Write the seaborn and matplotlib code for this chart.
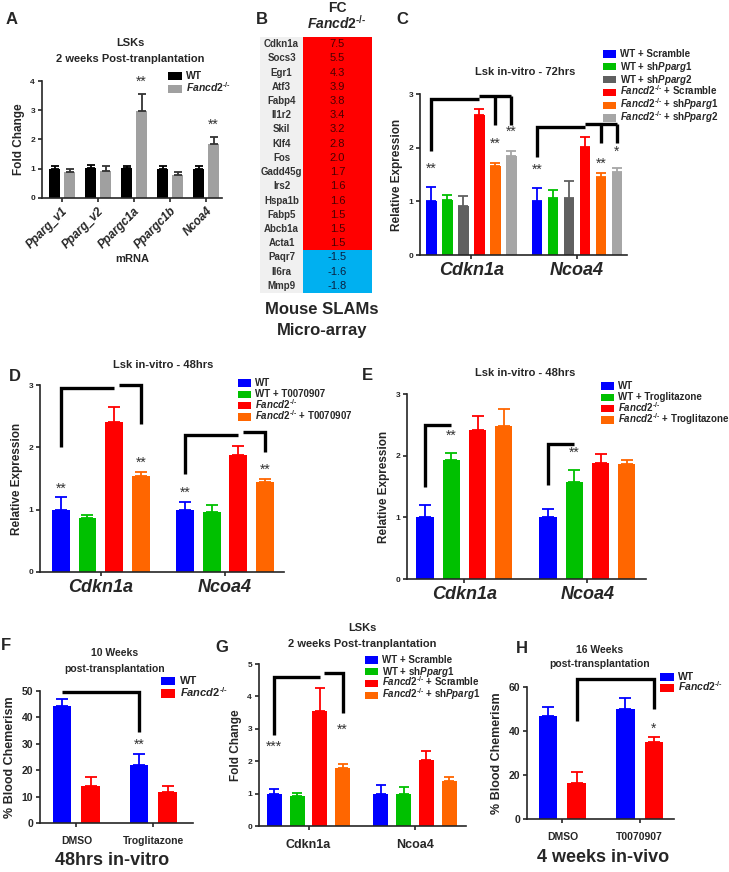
import numpy as np
import pandas as pd
import matplotlib
matplotlib.use('Agg')
import matplotlib.pyplot as plt
import seaborn as sns
from matplotlib.colors import ListedColormap
from matplotlib.container import BarContainer
from matplotlib.patches import Patch, Rectangle
from matplotlib.legend_handler import HandlerPatch

sns.set_style('ticks')
plt.rcParams['font.family'] = ['Liberation Sans', 'DejaVu Sans']
plt.rcParams['font.weight'] = 'bold'
plt.rcParams['mathtext.fontset'] = 'custom'
plt.rcParams['mathtext.rm'] = 'Liberation Sans:bold'
plt.rcParams['mathtext.it'] = 'Liberation Sans:italic:bold'
plt.rcParams['mathtext.bf'] = 'Liberation Sans:bold'
plt.rcParams['mathtext.fallback'] = None
plt.rcParams['axes.linewidth'] = 1.2

# hyphen (U+2010) instead of the wide math minus
KO = '$\\it{Fancd2}^{\u2010/\u2010}$'

# ---- panel A ----
a_genes = ['Pparg_v1', 'Pparg_v2', 'Ppargc1a', 'Ppargc1b', 'Ncoa4']
a_conds = ['WT', KO]
a_wt = [1.0, 1.02, 1.01, 1.0, 0.98]
a_wt_err = [0.08, 0.11, 0.10, 0.08, 0.11]
a_ko = [0.89, 0.94, 2.98, 0.80, 1.83]
a_ko_err = [0.11, 0.14, 0.57, 0.09, 0.24]

# ---- panel B ----
b_genes = ['Cdkn1a', 'Socs3', 'Egr1', 'Atf3', 'Fabp4', 'Il1r2', 'Skil', 'Klf4', 'Fos',
           'Gadd45g', 'Irs2', 'Hspa1b', 'Fabp5', 'Abcb1a', 'Acta1', 'Paqr7', 'Il6ra', 'Mmp9']
b_fc = [7.5, 5.5, 4.3, 3.9, 3.8, 3.4, 3.2, 2.8, 2.0, 1.7, 1.6, 1.6, 1.5, 1.5, 1.5, -1.5, -1.6, -1.8]

# ---- panel C ----
genes2 = ['Cdkn1a', 'Ncoa4']
c_conds = ['WT + Scramble', r'WT + sh$\it{Pparg1}$', r'WT + sh$\it{Pparg2}$',
           KO + ' + Scramble', KO + r' + sh$\it{Pparg1}$', KO + r' + sh$\it{Pparg2}$']
c_colors = ['#0000ff', '#00c000', '#606060', '#ff0000', '#ff6600', '#a6a6a6']
c_cdkn1a = [1.0, 1.02, 0.92, 2.6, 1.65, 1.84]
c_cdkn1a_err = [0.27, 0.10, 0.18, 0.12, 0.07, 0.10]
c_ncoa4 = [1.0, 1.07, 1.07, 2.01, 1.45, 1.54]
c_ncoa4_err = [0.24, 0.15, 0.30, 0.18, 0.08, 0.09]

# ---- panel D ----
d_conds = ['WT', 'WT + T0070907', KO, KO + ' + T0070907']
four_colors = ['#0000ff', '#00c000', '#ff0000', '#ff6600']
d_cdkn1a = [1.0, 0.86, 2.4, 1.54]
d_cdkn1a_err = [0.20, 0.06, 0.24, 0.07]
d_ncoa4 = [1.0, 0.97, 1.88, 1.44]
d_ncoa4_err = [0.13, 0.10, 0.14, 0.06]

# ---- panel E ----
e_conds = ['WT', 'WT + Troglitazone', KO, KO + ' + Troglitazone']
e_cdkn1a = [1.0, 1.93, 2.41, 2.48]
e_cdkn1a_err = [0.20, 0.12, 0.23, 0.28]
e_ncoa4 = [1.0, 1.58, 1.88, 1.86]
e_ncoa4_err = [0.13, 0.19, 0.14, 0.07]

# ---- panel F ----
f_treat = ['DMSO', 'Troglitazone']
two_conds = ['WT', KO]
two_colors = ['#0000ff', '#ff0000']
f_wt = [44.2, 22.0]
f_wt_err = [2.9, 4.0]
f_ko = [14.2, 11.9]
f_ko_err = [3.4, 2.3]

# ---- panel G ----
g_conds = ['WT + Scramble', r'WT + sh$\it{Pparg1}$', KO + ' + Scramble', KO + r' + sh$\it{Pparg1}$']
g_cdkn1a = [1.0, 0.93, 3.56, 1.79]
g_cdkn1a_err = [0.13, 0.09, 0.71, 0.13]
g_ncoa4 = [1.0, 1.0, 2.05, 1.39]
g_ncoa4_err = [0.26, 0.19, 0.27, 0.13]

# ---- panel H ----
h_treat = ['DMSO', 'T0070907']
h_wt = [46.8, 50.2]
h_wt_err = [4.1, 4.8]
h_ko = [16.5, 34.8]
h_ko_err = [4.9, 2.5]

W, H = 729, 872
fig = plt.figure(figsize=(W / 100, H / 100), dpi=100)


def add_ax(x0, y0, x1, y1):
    return fig.add_axes([x0 / W, 1 - y1 / H, (x1 - x0) / W, (y1 - y0) / H])


def ftext(x, y, s, **kw):
    kw.setdefault('ha', 'center')
    kw.setdefault('va', 'center')
    fig.text(x / W, 1 - y / H, s, **kw)


def bar_panel(ax, groups, conds, colors, by_group, err_by_group, width, gap, cap, ecolors=None):
    df = pd.DataFrame({
        'group': np.repeat(groups, len(conds)),
        'cond': conds * len(groups),
        'value': np.ravel(by_group),
    })
    sns.barplot(data=df, x='group', y='value', hue='cond', hue_order=conds, order=groups,
                palette=colors, width=width, gap=gap, errorbar=None, saturation=1,
                linewidth=0, ax=ax)
    bars = [c for c in ax.containers if isinstance(c, BarContainer)]
    # bar centres as [group][cond]
    centres = np.array([[b.get_x() + b.get_width() / 2 for b in cont] for cont in bars]).T
    errs = np.array(err_by_group).T
    for cont, e, col in zip(bars, errs, ecolors or colors):
        xs = [b.get_x() + b.get_width() / 2 for b in cont]
        hs = [b.get_height() for b in cont]
        ax.errorbar(xs, hs, yerr=[np.zeros(len(e)), e], fmt='none', ecolor=col,
                    elinewidth=1.3, capsize=cap, capthick=1.3, clip_on=False)
    return centres


def style(ax, xlim, ylim, yticks, ylabel, ylab_fs=8.5, tick_fs=6):
    ax.set_xlim(xlim)
    ax.set_ylim(ylim)
    ax.set_yticks(yticks)
    sns.despine(ax=ax)
    ax.tick_params(labelsize=tick_fs, width=1.2, length=3, pad=2)
    ax.set_xlabel('')
    ax.set_ylabel(ylabel, fontsize=ylab_fs, fontweight='bold', labelpad=4)


def small_patch(legend, orig_handle, xdescent, ydescent, width, height, fontsize):
    # fixed-size swatch centred in a tall handle box -> even row pitch
    cy = -ydescent + height / 2
    h = 0.75 * fontsize
    return Rectangle((-xdescent, cy - h / 2), width, h)


HH = 2.4
ROW_H = 0.65 * HH + 0.245          # handle box height (in font sizes)
DESC = 0.35 * (HH - 0.7)
CEN = ROW_H / 2 - DESC             # swatch centre above baseline
ASC = ROW_H - DESC                 # box top above baseline


def place_legend(ax, x, y, fs, pitch, hl=1.3):
    f_px = fs * 100 / 72
    sns.move_legend(ax, 'upper left',
                    bbox_to_anchor=(x / W, 1 - (y - (ASC - CEN) * f_px) / H),
                    bbox_transform=fig.transFigure, frameon=False, fontsize=fs, title='',
                    borderpad=0, borderaxespad=0, labelspacing=pitch / f_px - ROW_H,
                    handlelength=hl, handleheight=HH, handletextpad=0.45,
                    handler_map={Patch: HandlerPatch(patch_func=small_patch)})


def line(ax, xs, ys, lw=2.4):
    ax.plot(xs, ys, color='black', lw=lw, clip_on=False, solid_capstyle='butt',
            solid_joinstyle='miter')


def stars(ax, x, y, s='**', fs=10):
    ax.text(x, y, s, ha='center', va='center', fontsize=fs, fontweight='normal', color='#333333')


# ================= A =================
axA = add_ax(42, 81, 222, 198)
xa = bar_panel(axA, a_genes, a_conds, ['#000000', '#a0a0a0'],
               np.array([a_wt, a_ko]).T, np.array([a_wt_err, a_ko_err]).T, 0.833, 0.33, 2.8,
               ecolors=['#000000', '#333333'])
style(axA, (-0.556, 4.444), (0, 4), [0, 1, 2, 3, 4], 'Fold Change')
axA.set_xticks(range(len(a_genes)))
axA.set_xticklabels(a_genes, rotation=45, ha='right', rotation_mode='anchor',
                    fontsize=8.5, fontstyle='italic')
axA.set_xlabel('mRNA', fontsize=8, fontweight='bold', labelpad=2)
stars(axA, xa[2][1], 3.97)
stars(axA, xa[4][1], 2.49)
place_legend(axA, 168, 76, 7.5, 13)
ftext(130, 43, 'LSKs', fontsize=8)
ftext(130, 59, '2 weeks Post-tranplantation', fontsize=8)
ftext(12, 20, 'A', fontsize=12)

# ================= B =================
axN = add_ax(260, 37, 303, 293)
axN.set_facecolor('#f0f0f0')
axN.set_xlim(0, 1)
axN.set_ylim(len(b_genes), 0)
axN.set_xticks([])
axN.set_yticks([])
for s in axN.spines.values():
    s.set_visible(False)
for i, g in enumerate(b_genes):
    axN.text(0.5, i + 0.5, g, ha='center', va='center', fontsize=7, color='#333333')

axB = add_ax(303, 37, 372, 293)
df_b = pd.DataFrame({'FC': b_fc}, index=b_genes)
sns.heatmap(df_b, ax=axB, cmap=ListedColormap(['#00b0f0', '#ff0000']), vmin=-8, vmax=8,
            cbar=False, annot=True, fmt='.1f', xticklabels=False, yticklabels=False,
            annot_kws={'fontsize': 8, 'fontweight': 'normal'})
for t in axB.texts:
    t.set_color('#4a0000' if float(t.get_text()) > 0 else '#0a2040')
axB.set_xlabel('')
axB.set_ylabel('')
ftext(262, 20, 'B', fontsize=12)
ftext(337, 8, 'FC', fontsize=10)
ftext(337, 23, KO, fontsize=10)
ftext(322, 310, 'Mouse SLAMs', fontsize=12)
ftext(322, 330, 'Micro-array', fontsize=12)

# ================= C =================
axC = add_ax(420, 94, 627, 255)
xc = bar_panel(axC, genes2, c_conds, c_colors, [c_cdkn1a, c_ncoa4],
               [c_cdkn1a_err, c_ncoa4_err], 0.91, 0.33, 3.4)
style(axC, (-0.487, 1.475), (0, 3), [0, 1, 2, 3], 'Relative Expression')
axC.set_xticks([0, 1])
axC.set_xticklabels(genes2, fontsize=13, fontstyle='italic')
line(axC, [xc[0][0], xc[0][0], xc[0][3]], [1.93, 2.9, 2.9])
line(axC, [xc[0][3], xc[0][5]], [2.96, 2.96])
line(axC, [xc[0][4], xc[0][4]], [2.96, 2.42])
line(axC, [xc[0][5], xc[0][5]], [2.96, 2.42])
line(axC, [xc[1][0], xc[1][0], xc[1][3]], [1.83, 2.39, 2.39])
line(axC, [xc[1][3], xc[1][5]], [2.45, 2.45])
line(axC, [xc[1][4], xc[1][4]], [2.45, 2.09])
line(axC, [xc[1][5], xc[1][5]], [2.45, 2.09])
stars(axC, xc[0][0], 1.6)
stars(axC, xc[0][4], 2.08)
stars(axC, xc[0][5], 2.3)
stars(axC, xc[1][0], 1.58)
stars(axC, xc[1][4], 1.7)
stars(axC, xc[1][5], 1.93, '*')
place_legend(axC, 603, 54, 7, 12.8)
ftext(525, 72, 'Lsk in-vitro - 72hrs', fontsize=8)
ftext(402, 20, 'C', fontsize=12)

# ================= D =================
axD = add_ax(40, 385, 284, 572)
xd = bar_panel(axD, genes2, d_conds, four_colors, [d_cdkn1a, d_ncoa4],
               [d_cdkn1a_err, d_ncoa4_err], 0.86, 0.33, 4.5)
style(axD, (-0.49, 1.476), (0, 3), [0, 1, 2, 3], 'Relative Expression')
axD.set_xticks([0, 1])
axD.set_xticklabels(genes2, fontsize=13, fontstyle='italic')
off = 0.04
line(axD, [xd[0][0], xd[0][0], xd[0][2]], [2.0, 2.95, 2.95])
line(axD, [xd[0][2] + off, xd[0][3], xd[0][3]], [3.0, 3.0, 2.37])
line(axD, [xd[1][0], xd[1][0], xd[1][2]], [1.57, 2.19, 2.19])
line(axD, [xd[1][2] + off, xd[1][3], xd[1][3]], [2.24, 2.24, 1.93])
stars(axD, xd[0][0], 1.34)
stars(axD, xd[0][3], 1.76)
stars(axD, xd[1][0], 1.27)
stars(axD, xd[1][3], 1.64)
place_legend(axD, 238, 383, 7, 11.3)
ftext(163, 365, 'Lsk in-vitro - 48hrs', fontsize=8)
ftext(15, 376, 'D', fontsize=12)

# ================= E =================
axE = add_ax(407, 394, 646, 579)
xe = bar_panel(axE, genes2, e_conds, four_colors, [e_cdkn1a, e_ncoa4],
               [e_cdkn1a_err, e_ncoa4_err], 0.855, 0.35, 4.5)
style(axE, (-0.467, 1.476), (0, 3), [0, 1, 2, 3], 'Relative Expression')
axE.set_xticks([0, 1])
axE.set_xticklabels(genes2, fontsize=13, fontstyle='italic')
line(axE, [xe[0][0], xe[0][0], xe[0][1]], [1.5, 2.5, 2.5])
line(axE, [xe[1][0], xe[1][0], xe[1][1]], [1.53, 2.19, 2.19])
stars(axE, xe[0][1], 2.33)
stars(axE, xe[1][1], 2.05)
place_legend(axE, 601, 386, 7, 11.3)
ftext(525, 373, 'Lsk in-vitro - 48hrs', fontsize=8)
ftext(367, 375, 'E', fontsize=12)

# ================= F =================
axF = add_ax(40, 691, 193, 823)
xf = bar_panel(axF, f_treat, two_conds, two_colors, np.array([f_wt, f_ko]).T,
               np.array([f_wt_err, f_ko_err]).T, 0.753, 0.345, 4.5)
style(axF, (-0.474, 1.513), (0, 50), [0, 10, 20, 30, 40, 50], '% Blood Chemerism',
      ylab_fs=9, tick_fs=7.5)
axF.set_xticks([0, 1])
axF.set_xticklabels(f_treat, fontsize=7.5)
axF.tick_params(axis='x', pad=6)
line(axF, [xf[0][0], xf[1][0], xf[1][0]], [49.6, 49.6, 34.5])
stars(axF, xf[1][0], 29.5)
place_legend(axF, 161, 681, 8, 12.5)
ftext(115, 653, '10 Weeks', fontsize=7.5)
ftext(115, 669, 'post-transplantation', fontsize=7.5)
ftext(112, 860, '48hrs in-vitro', fontsize=13)
ftext(6, 645, 'F', fontsize=12)

# ================= G =================
axG = add_ax(259, 664, 466, 826)
xg = bar_panel(axG, genes2, g_conds, four_colors, [g_cdkn1a, g_ncoa4],
               [g_cdkn1a_err, g_ncoa4_err], 0.856, 0.34, 3.5)
style(axG, (-0.465, 1.479), (0, 5), [0, 1, 2, 3, 4, 5], 'Fold Change')
axG.set_xticks([0, 1])
axG.set_xticklabels(genes2, fontsize=9)
axG.tick_params(axis='x', pad=6)
line(axG, [xg[0][0], xg[0][0], xg[0][2]], [2.8, 4.6, 4.6])
line(axG, [xg[0][2] + off, xg[0][3], xg[0][3]], [4.71, 4.71, 3.5])
stars(axG, xg[0][0], 2.46, '***')
stars(axG, xg[0][3], 2.96)
place_legend(axG, 365, 660, 7, 11.7)
ftext(362, 628, 'LSKs', fontsize=8)
ftext(362, 644, '2 weeks Post-tranplantation', fontsize=8)
ftext(222, 647, 'G', fontsize=12)

# ================= H =================
axH = add_ax(527, 687, 674, 819)
xh = bar_panel(axH, h_treat, two_conds, two_colors, np.array([h_wt, h_ko]).T,
               np.array([h_wt_err, h_ko_err]).T, 0.753, 0.345, 4.5)
style(axH, (-0.461, 1.448), (0, 60), [0, 20, 40, 60], '% Blood Chemerism',
      ylab_fs=9, tick_fs=7.5)
axH.set_xticks([0, 1])
axH.set_xticklabels(h_treat, fontsize=7.5)
axH.tick_params(axis='x', pad=6)
line(axH, [xh[0][1], xh[0][1], xh[1][1], xh[1][1]], [44.5, 63.8, 63.8, 50])
stars(axH, xh[1][1], 41, '*')
place_legend(axH, 660, 677, 7.5, 11)
ftext(600, 650, '16 Weeks', fontsize=7.5)
ftext(600, 664, 'post-transplantation', fontsize=7.5)
ftext(603, 857, '4 weeks in-vivo', fontsize=13)
ftext(522, 648, 'H', fontsize=12)

fig.savefig('out.png', dpi=100)
